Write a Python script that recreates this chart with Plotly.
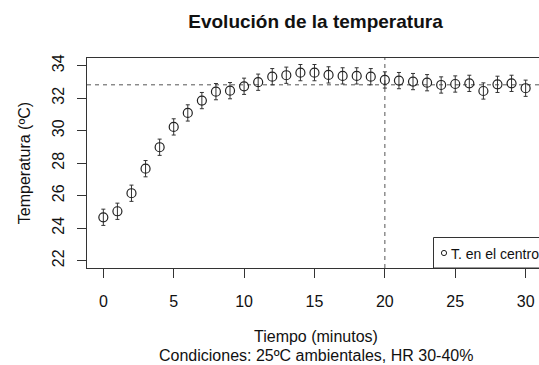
import plotly.graph_objects as go

# ---- data ----
tiempo = list(range(0, 31))
temperatura = [24.67, 25.04, 26.15, 27.66, 28.98, 30.23, 31.09, 31.85, 32.40, 32.46,
               32.73, 32.98, 33.32, 33.41, 33.57, 33.57, 33.43, 33.37, 33.37, 33.32,
               33.12, 33.08, 33.02, 32.95, 32.81, 32.87, 32.91, 32.44, 32.85, 32.91,
               32.61]
error = [0.5] * len(tiempo)
ref_temp = 32.82
ref_time = 20
x_ticks = [0, 5, 10, 15, 20, 25, 30]
y_ticks = [22, 24, 26, 28, 30, 32, 34]
serie = "T. en el centro"
titulo = "Evolución de la temperatura"
xlab1 = "Tiempo (minutos)"
xlab2 = "Condiciones: 25ºC ambientales, HR 30-40%"
ylab = "Temperatura (ºC)"

W, H = 539, 365
L, R, T, B = 87, 0, 58, 97
FONT = "Liberation Sans, Arial, Helvetica, sans-serif"
INK = "#333333"

fig = go.Figure()
fig.add_trace(go.Scatter(
    x=tiempo, y=temperatura, mode="markers", showlegend=False,
    marker=dict(symbol="circle-open", size=9, color="#222222", line=dict(width=1.2, color="#222222")),
    error_y=dict(type="data", array=error, visible=True, thickness=1, width=2, color="#333333"),
))

# reference lines
fig.add_shape(type="line", xref="paper", x0=0, x1=1, yref="y", y0=ref_temp, y1=ref_temp,
              line=dict(color="#555555", width=1, dash="4px,4px"), layer="below")
fig.add_shape(type="line", xref="x", x0=ref_time, x1=ref_time, yref="paper", y0=0, y1=1,
              line=dict(color="#555555", width=1, dash="4px,4px"), layer="below")

pw = W - L - R
ph = H - T - B
def px(xp):
    return (xp - L) / pw
def py(yp):
    return (H - B - yp) / ph

# legend box (cropped at the right edge, as in the reference)
fig.add_shape(type="rect", xref="paper", yref="paper", x0=px(433.5), x1=1.2, y0=0, y1=py(237.5),
              line=dict(color=INK, width=1), fillcolor="white")
fig.add_shape(type="circle", xref="paper", yref="paper", xsizemode="pixel", ysizemode="pixel",
              xanchor=px(444), yanchor=py(253), x0=-2.6, x1=2.6, y0=-2.6, y1=2.6,
              line=dict(color="#222222", width=1))
fig.add_annotation(text=serie, xref="paper", yref="paper", x=px(449), y=py(253.5),
                   xanchor="left", yanchor="middle", showarrow=False,
                   font=dict(family=FONT, size=14, color="#111111"))

# x axis labels (two lines)
fig.add_annotation(text=xlab1, xref="paper", yref="paper", x=px(315.5), y=py(336),
                   xanchor="center", yanchor="middle", showarrow=False,
                   font=dict(family=FONT, size=16, color="#111111"))
fig.add_annotation(text=xlab2, xref="paper", yref="paper", x=px(315.5), y=py(355),
                   xanchor="center", yanchor="middle", showarrow=False,
                   font=dict(family=FONT, size=16, color="#111111"))

fig.update_layout(
    width=W, height=H,
    margin=dict(l=L, r=R, t=T, b=B),
    paper_bgcolor="white", plot_bgcolor="white",
    font=dict(family=FONT, size=16, color="#111111"),
    title=dict(text="<b>" + titulo + "</b>", xref="container", x=315.5 / W, xanchor="center",
               yref="container", y=1 - 21 / H, yanchor="middle",
               font=dict(family=FONT, size=19, color="#111111")),
    xaxis=dict(range=[-1.16, 30.95], tickvals=x_ticks, ticktext=[str(v) for v in x_ticks],
               showgrid=False, zeroline=False, showline=True, mirror=True,
               linecolor=INK, linewidth=1, ticks="outside", ticklen=9, tickwidth=1,
               tickcolor=INK, ticklabelstandoff=10, tickfont=dict(size=16)),
    yaxis=dict(range=[21.55, 34.47], tickvals=y_ticks, ticktext=[str(v) for v in y_ticks],
               showgrid=False, zeroline=False, showline=True, mirror=False,
               linecolor=INK, linewidth=1, ticks="outside", ticklen=9, tickwidth=1,
               tickcolor=INK, tickangle=-90, ticklabelstandoff=7, tickfont=dict(size=16)),
)
fig.update_yaxes(title=dict(text=ylab, standoff=14, font=dict(size=16)))

fig.write_html("out.html")
